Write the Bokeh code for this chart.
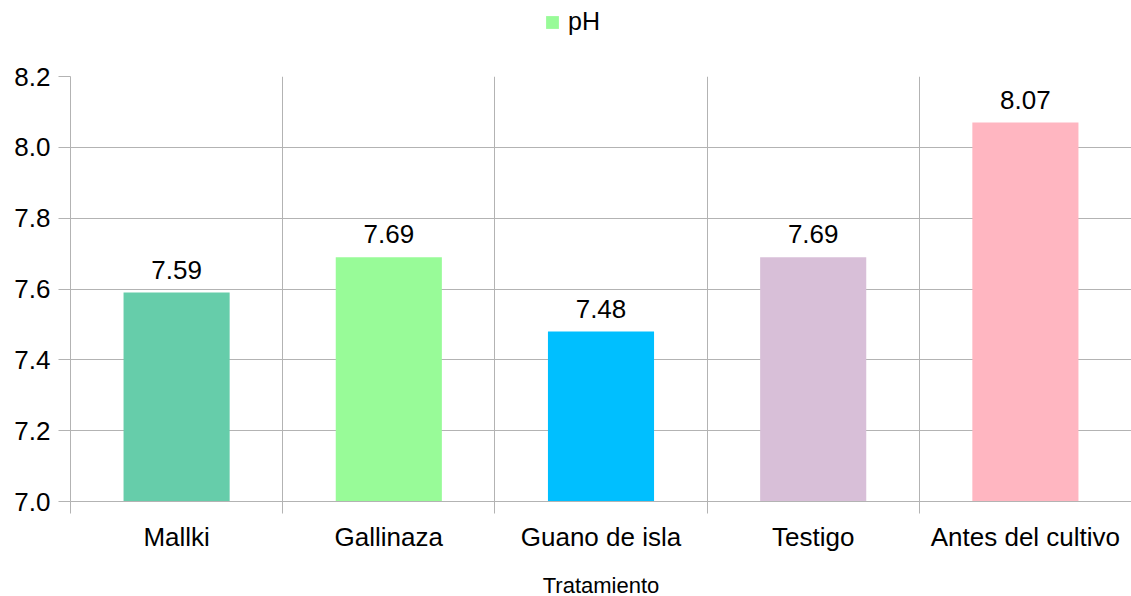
from bokeh.plotting import figure
from bokeh.layouts import column
from bokeh.models import ColumnDataSource, FixedTicker, LabelSet, Legend, LegendItem, Range1d, PrintfTickFormatter
from bokeh.core.properties import value
from bokeh.embed import file_html
from bokeh.resources import INLINE

categories = ["Mallki", "Gallinaza", "Guano de isla", "Testigo", "Antes del cultivo"]
ph_values = [7.59, 7.69, 7.48, 7.69, 8.07]
value_labels = ["7.59", "7.69", "7.48", "7.69", "8.07"]
bar_colors = ["#66CDAA", "#98FB98", "#00BFFF", "#D8BFD8", "#FFB6C1"]
y_ticks = [7.0, 7.2, 7.4, 7.6, 7.8, 8.0, 8.2]

FONT = "Liberation Sans"
GRID = "#b3b3b3"

n = len(categories)
centers = [i + 0.5 for i in range(n)]
bounds = [float(i) for i in range(n + 1)]

src = ColumnDataSource(dict(x=centers, top=ph_values, color=bar_colors, lab=value_labels))

# ---- header with legend ----
HEAD_H = 61
head = figure(width=1131, height=HEAD_H, output_backend="svg", toolbar_location=None,
              x_range=Range1d(100, 101), y_range=Range1d(100, 101),
              min_border=0, min_border_left=0, min_border_right=0, min_border_top=0, min_border_bottom=0)
head.axis.visible = False
head.grid.visible = False
head.outline_line_color = None
head.background_fill_color = "white"
head.border_fill_color = "white"
hr = head.vbar(x="x", width=0.5, bottom=7.0, top="top", fill_color="color", line_color=None, source=src)
legend = Legend(items=[LegendItem(label="pH", renderers=[hr], index=1)],
                location=(474, 25), orientation="horizontal",
                label_text_font=FONT, label_text_font_size="25px", label_text_color="#000000",
                glyph_width=16, glyph_height=16, label_standoff=8,
                border_line_color=None, background_fill_alpha=0,
                padding=4, margin=0)
head.add_layout(legend)

# ---- main chart ----
FRAME_H = 425
p = figure(frame_width=1061, frame_height=FRAME_H, output_backend="svg", toolbar_location=None,
           x_range=Range1d(0, n), y_range=Range1d(7.0, 8.2),
           min_border_left=70, min_border_right=0, min_border_top=15, min_border_bottom=95)
p.outline_line_color = None
p.background_fill_color = "white"
p.border_fill_color = "white"

r = p.vbar(x="x", width=0.5, bottom=7.0, top="top", fill_color="color", line_color=None, source=src)

labels = LabelSet(x="x", y="top", text="lab", source=src, text_align="center",
                  text_baseline="alphabetic", y_offset=14, text_font=value(FONT),
                  text_font_size="26px", text_color="#000000")
p.add_layout(labels)

# x axis
p.xaxis.ticker = FixedTicker(ticks=centers, minor_ticks=bounds)
p.xaxis.major_label_overrides = {c: lab for c, lab in zip(centers, categories)}
p.xaxis.major_tick_out = 0
p.xaxis.major_tick_in = 0
p.xaxis.minor_tick_out = 12
p.xaxis.minor_tick_in = 0
p.xaxis.minor_tick_line_color = GRID
p.xaxis.axis_line_color = GRID
p.xaxis.major_label_text_font = FONT
p.xaxis.major_label_text_font_size = "26px"
p.xaxis.major_label_text_color = "#000000"
p.xaxis.major_label_standoff = 8
p.xaxis.axis_label = "Tratamiento"
p.xaxis.axis_label_text_font = FONT
p.xaxis.axis_label_text_font_size = "22px"
p.xaxis.axis_label_text_font_style = "normal"
p.xaxis.axis_label_text_color = "#000000"
p.xaxis.axis_label_standoff = 18

# y axis
p.yaxis.ticker = FixedTicker(ticks=y_ticks)
p.yaxis.formatter = PrintfTickFormatter(format="%.1f")
p.yaxis.major_tick_out = 12
p.yaxis.major_tick_in = 0
p.yaxis.minor_tick_out = 0
p.yaxis.minor_tick_in = 0
p.yaxis.major_tick_line_color = GRID
p.yaxis.axis_line_color = GRID
p.yaxis.major_label_text_font = FONT
p.yaxis.major_label_text_font_size = "26px"
p.yaxis.major_label_text_color = "#000000"
p.yaxis.major_label_standoff = 8

# grids
p.xgrid.ticker = FixedTicker(ticks=bounds)
p.xgrid.grid_line_color = GRID
p.ygrid.grid_line_color = GRID
p.ygrid.ticker = FixedTicker(ticks=y_ticks)

layout = column(head, p, spacing=0)
open("out.html", "w").write(file_html(layout, INLINE))
